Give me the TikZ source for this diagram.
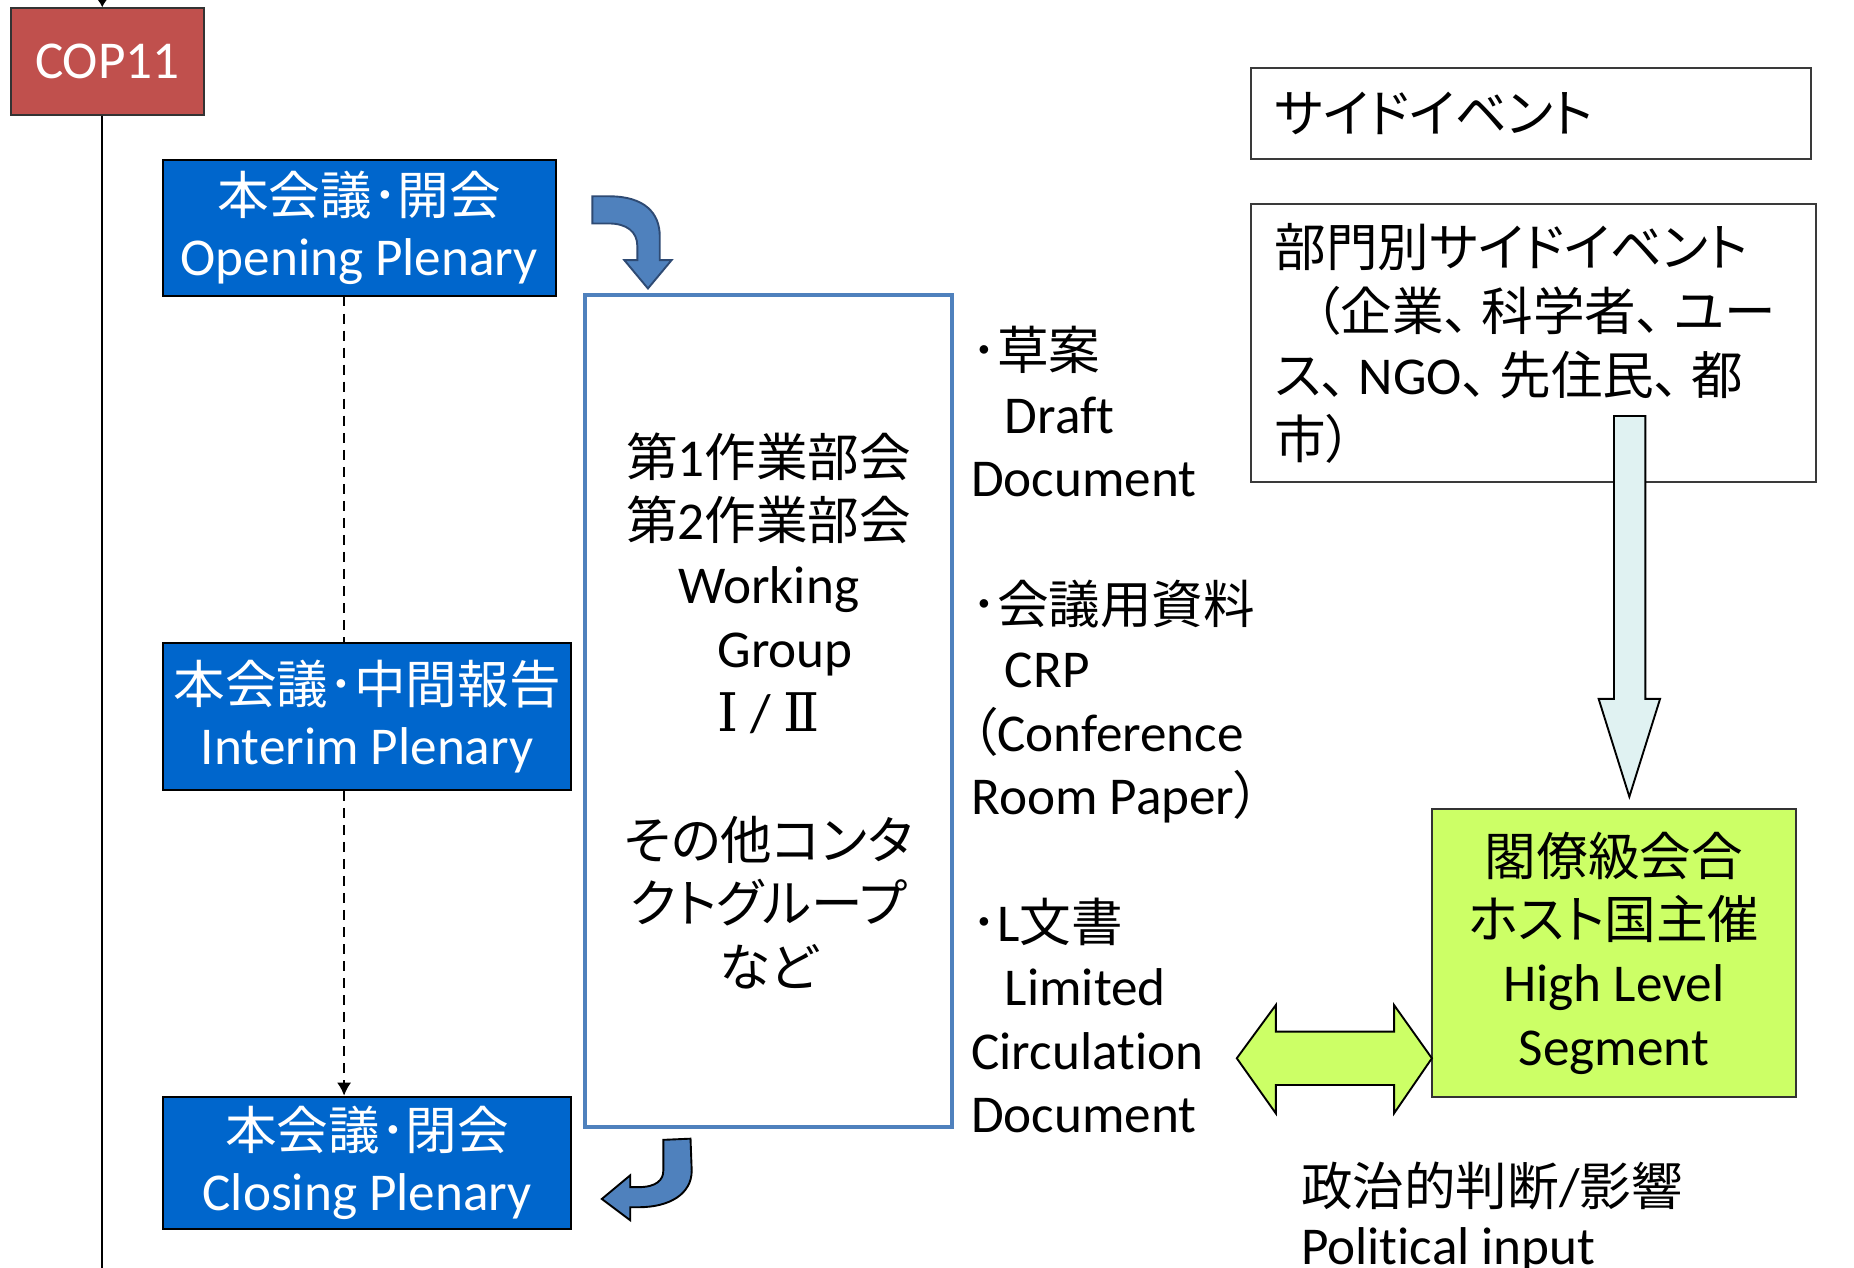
\documentclass[tikz,border=0pt]{standalone}
\usepackage{fontspec}
\setmainfont{Carlito}[Ligatures=NoCommon]
\newfontfamily\cjk{Noto Sans CJK JP}[RawFeature=+palt,Scale=0.97]
\newfontfamily\romfont{DejaVu Serif}
\newcommand\jtext[1]{{\cjk #1}}
\newcommand\tou{\jtext{、}\hspace{5pt}}
\usetikzlibrary{arrows.meta}
\definecolor{copred}{HTML}{C0504D}
\definecolor{plblue}{HTML}{0066CC}
\definecolor{wgblue}{HTML}{4F81BD}
\definecolor{arrblue}{HTML}{4F81BD}
\definecolor{arrline}{HTML}{2E4A73}
\definecolor{hlgreen}{HTML}{CCFF66}
\definecolor{lcyan}{HTML}{E0F2F2}
\definecolor{boxgray}{HTML}{3A3A3A}
\begin{document}
\begin{tikzpicture}[x=0.5pt,y=-0.5pt,
  copbox/.style={draw=black!80, line width=0.8pt, fill=copred, text=white, inner sep=0pt,
    minimum width=81.75pt, minimum height=45pt, font=\fontsize{22.5}{26}\selectfont},
  plen/.style={draw=black, line width=0.8pt, fill=plblue, text=white, align=center,
    inner sep=0pt, font=\fontsize{22.5}{26}\selectfont},
  wgbox/.style={draw=wgblue, line width=1.6pt, fill=white, align=center, inner sep=0pt,
    font=\fontsize{22.5}{27}\selectfont},
  sbox/.style={draw=boxgray, line width=0.8pt, fill=white, align=left, inner xsep=10pt,
    inner ysep=0pt, font=\fontsize{22.5}{27}\selectfont},
  hlbox/.style={draw=black!80, line width=0.8pt, fill=hlgreen, align=center, inner sep=0pt,
    font=\fontsize{22.5}{26.8}\selectfont},
  plaintext/.style={align=left, inner sep=0pt, font=\fontsize{22.5}{26.9}\selectfont},
  timeline/.style={line width=1pt, draw=black},
  dashline/.style={line width=1pt, draw=black, dash pattern=on 4.2pt off 3pt},
  bluearrow/.style={fill=arrblue, draw=arrline, line width=0.8pt, line join=miter},
  bluearrowb/.style={fill=arrblue, draw=black, line width=0.8pt, line join=miter},
  greenarrow/.style={fill=hlgreen, draw=black, line width=0.8pt, line join=miter},
  cyanarrow/.style={fill=lcyan, draw=black, line width=0.8pt, line join=miter}
]
\useasboundingbox (0,0) rectangle (1568,1072);

% timeline
\node[copbox] (cop) at (90.75,52) {COP11};
\coordinate (vtop) at (86.5,0);
\coordinate (vbot) at (86.5,1072);
\draw[timeline, -{Latex[length=3.5pt,width=4.5pt]}] (vtop) -- (vtop |- cop.north);
\draw[timeline] (vtop |- cop.south) -- (vbot);

% plenary boxes
\node[plen, minimum width=166.25pt, minimum height=57.5pt] (open) at (303.75,192.5)
  {\jtext{本会議･開会}\\Opening Plenary};
\node[plen, minimum width=172.5pt, minimum height=62pt] (inter) at (310.5,606)
  {\jtext{本会議･中間報告}\\Interim Plenary};
\node[plen, minimum width=172.5pt, minimum height=56pt] (close) at (310.5,983.5)
  {\jtext{本会議･閉会}\\Closing Plenary};

\coordinate (dx) at (291,0);
\draw[dashline] (open.south -| dx) -- (inter.north -| dx);
\draw[dashline, -{Latex[length=5.5pt,width=6pt]}] (inter.south -| dx) -- (close.north -| dx);

% working group box
\node[wgbox, minimum width=155pt, minimum height=351.75pt] (wg) at (650,601.25)
  {\jtext{第}1\jtext{作業部会}\\
   \jtext{第}2\jtext{作業部会}\\
   Working\\
   \hspace*{14pt}Group\\
   {\romfont Ⅰ} / {\romfont Ⅱ}\\[27pt]
   \jtext{その他コンタ}\\
   \jtext{クトグループ}\\
   \jtext{など}};

% curved blue arrows
\draw[bluearrow] (501,166) -- (515,166) .. controls (545,166) and (558,180) .. (558,200)
  -- (558,220) -- (568,220) -- (548,244) -- (528,220) -- (539,220) -- (539,208)
  .. controls (539,196) and (530,189) .. (515,189) -- (501,189) -- cycle;
\draw[bluearrowb] (561,964) -- (584,963) -- (585,990) .. controls (585,1010) and (566,1021) .. (540,1021)
  -- (533,1021) -- (533,1032) -- (509,1014) -- (533,994) -- (533,1004) -- (540,1004)
  .. controls (555,1004) and (561,998) .. (561,990) -- cycle;

% documents list
\node[plaintext, anchor=north west] (docA) at (821,272)
  {\rule{0pt}{20pt}\jtext{･草案}\\
   \hspace*{14.2pt}Draft\\
   Document};
\node[plaintext, anchor=north west] (docB) at (821,487.2)
  {\rule{0pt}{20pt}\jtext{･会議用資料}\\
   \hspace*{14.2pt}CRP\\
   \jtext{（}Conference\\
   Room Paper\jtext{）}};
\node[plaintext, anchor=north west] (docC) at (821,756.2)
  {\rule{0pt}{20pt}\jtext{･}L\jtext{文書}\\
   \hspace*{14.2pt}Limited\\
   Circulation\\
   Document};

% side events
\node[sbox, minimum width=236.85pt, minimum height=38.5pt, text width=216.85pt] (sb1)
  at (1294.85,96.25) {\jtext{サイドイベント}};
\node[sbox, minimum width=238.75pt, minimum height=117.75pt, text width=218.75pt] (sb2)
  at (1296.75,290.25)
  {\jtext{部門別サイドイベント}\\
   \hspace*{17pt}\jtext{（企業}\tou\jtext{科学者}\tou\jtext{ユー}\\
   \jtext{ス}\tou NGO\tou\jtext{先住民}\tou\jtext{都}\\
   \jtext{市）}};

% high level segment
\node[hlbox, minimum width=154pt, minimum height=121.5pt] (hl) at (1365,806)
  {\jtext{閣僚級会合}\\\jtext{ホスト国主催}\\High Level\\Segment};

% light cyan arrow from side events to high level
\draw[cyanarrow] (1365,351.8) -- (1391.5,351.8) -- (1391.5,591) -- (1404,591) -- (1378,673.8)
  -- (1352,591) -- (1365,591) -- cycle;

% green double arrow
\draw[greenarrow] (1046,895) -- (1079,850) -- (1079,872.5) -- (1179,872.5) -- (1179,850)
  -- (1211,895) -- (1179,941.6) -- (1179,917.6) -- (1079,917.6) -- (1079,941.6) -- cycle;

% political input
\node[plaintext, anchor=north west, font=\fontsize{22.5}{25}\selectfont] (pol) at (1100,979)
  {\rule{0pt}{20pt}\jtext{政治的判断}/\jtext{影響}\\Political input};
\end{tikzpicture}
\end{document}
